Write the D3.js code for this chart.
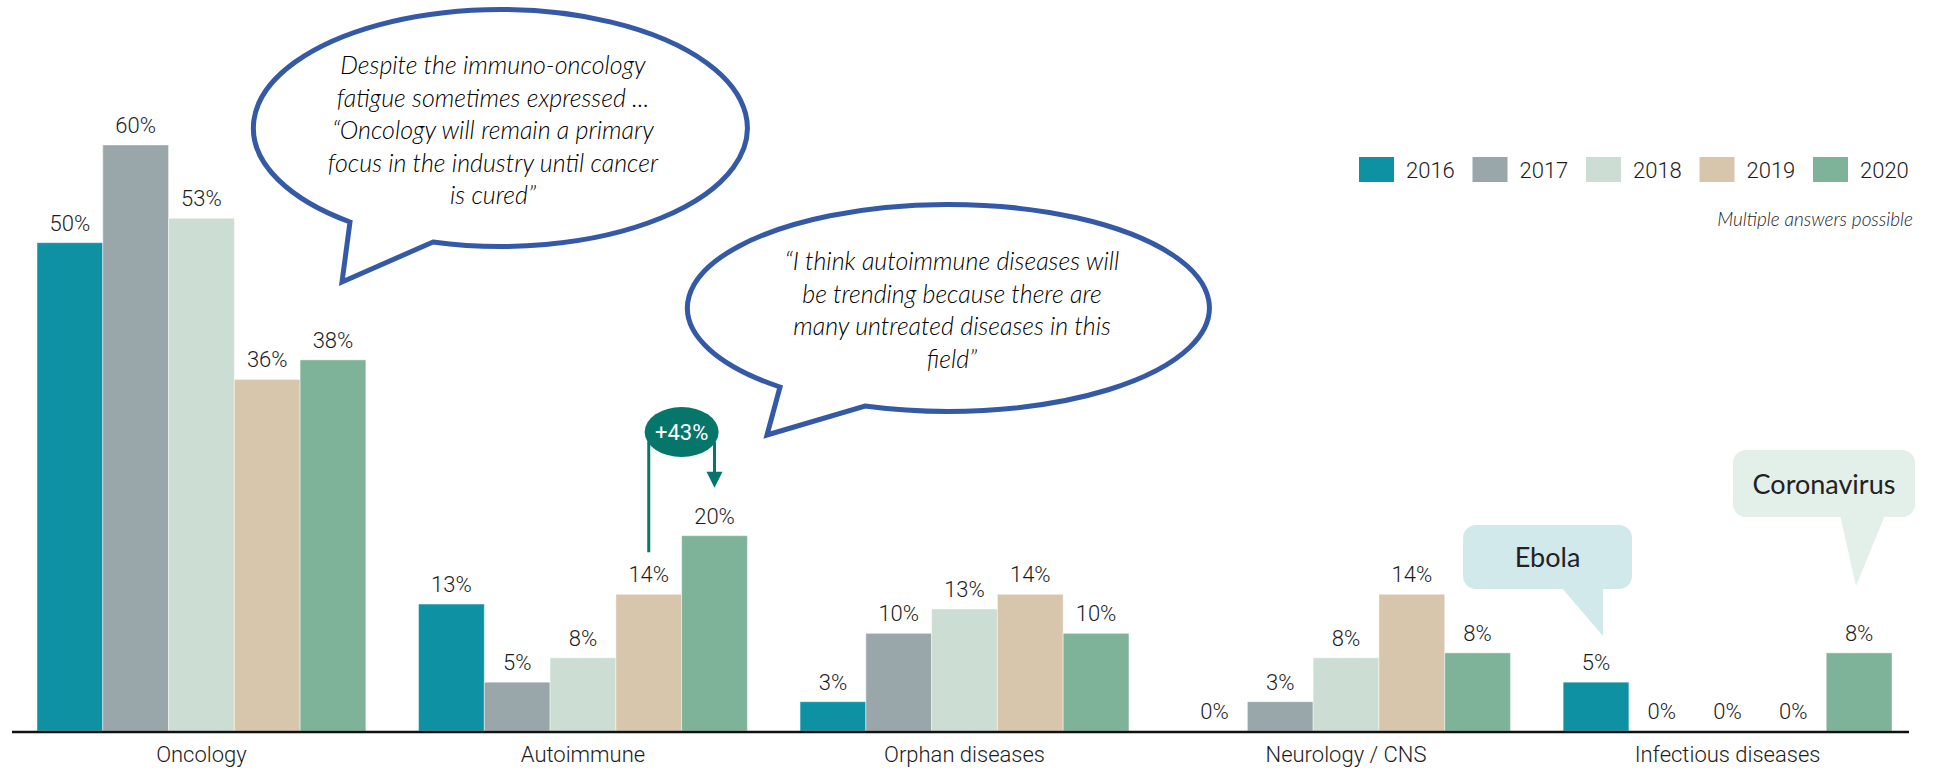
<!DOCTYPE html>
<html>
<head>
<meta charset="utf-8">
<script src="https://cdn.jsdelivr.net/npm/d3@7"></script>
<style>
  html, body { margin: 0; padding: 0; background: #fff; }
  svg { display: block; }
  .num { font-family: "Roboto", sans-serif; font-weight: 300; fill: #1c1c1c; }
  .quote { font-family: "Lato", sans-serif; font-style: italic; font-weight: 300; fill: #000; }
  .call { font-family: "Lato", sans-serif; fill: #222; }
</style>
</head>
<body>
<svg id="chart" width="1934" height="772"></svg>
<script>
// ---------------- data ----------------
const categories = ["Oncology", "Autoimmune", "Orphan diseases", "Neurology / CNS", "Infectious diseases"];
const years = ["2016", "2017", "2018", "2019", "2020"];
const s2016 = [50, 13, 3, 0, 5];
const s2017 = [60, 5, 10, 3, 0];
const s2018 = [52.5, 7.5, 12.5, 7.5, 0];
const s2019 = [36, 14, 14, 14, 0];
const s2020 = [38, 20, 10, 8, 8];
const series = [s2016, s2017, s2018, s2019, s2020];
const colors = ["#0F91A4", "#99A7AB", "#CCDDD3", "#D7C6AB", "#7EB399"];
const growthLabel = "+43%";
const note = "Multiple answers possible";
const quote1 = ["Despite the immuno-oncology", "fatigue sometimes expressed ...", "\u201COncology will remain a primary", "focus in the industry until cancer", "is cured\u201D"];
const quote2 = ["\u201CI think autoimmune diseases will", "be trending because there are", "many untreated diseases in this", "field\u201D"];

// ---------------- layout ----------------
const svg = d3.select("#chart");
const x0 = d3.scaleBand().domain(categories).range([37, 1892]).paddingInner(0.138).paddingOuter(0);
const x1 = d3.scaleBand().domain(years).range([0, x0.bandwidth()]).padding(0);
const y = d3.scaleLinear().domain([0, 60]).range([731, 145]);
const color = d3.scaleOrdinal().domain(years).range(colors);

const rows = [];
categories.forEach((c, ci) => years.forEach((yr, yi) => rows.push({ cat: c, year: yr, value: series[yi][ci] })));

// bars
svg.append("g").selectAll("rect").data(rows).join("rect")
  .attr("x", d => x0(d.cat) + x1(d.year))
  .attr("y", d => y(d.value))
  .attr("width", x1.bandwidth())
  .attr("height", d => y(0) - y(d.value))
  .attr("fill", d => color(d.year))
  .attr("stroke", "#fff").attr("stroke-opacity", 0.45).attr("stroke-width", 1);

// value labels
svg.append("g").selectAll("text").data(rows).join("text")
  .attr("class", "num")
  .attr("x", d => x0(d.cat) + x1(d.year) + x1.bandwidth() / 2)
  .attr("y", d => y(d.value) - 12)
  .attr("text-anchor", "middle")
  .attr("font-size", 22)
  .text(d => Math.round(d.value) + "%");

// x axis
const xAxis = d3.axisBottom(x0).tickSize(0).tickPadding(14);
const gx = svg.append("g").attr("transform", `translate(0,${y(0) + 1})`).call(xAxis);
gx.select(".domain").remove();
gx.selectAll("text").attr("class", "num").attr("font-size", 22).attr("font-family", null).attr("fill", "#1c1c1c");
svg.append("line").attr("x1", 12).attr("x2", 1909).attr("y1", y(0) + 1).attr("y2", y(0) + 1)
  .attr("stroke", "#111").attr("stroke-width", 2.5);

// legend
const lg = svg.append("g").selectAll("g").data(years).join("g")
  .attr("transform", (d, i) => `translate(${1359 + i * 113.5},157)`);
lg.append("rect").attr("width", 35).attr("height", 25).attr("fill", d => color(d));
lg.append("text").attr("class", "num").attr("x", 47).attr("y", 21).attr("font-size", 22).text(d => d);

svg.append("text").attr("class", "quote").attr("x", 1913).attr("y", 226)
  .attr("text-anchor", "end").attr("font-size", 19).style("fill", "#222").text(note);

// speech bubbles
function bubble(cx, cy, rx, ry, ax, ay, bx, by, tx, ty, lines, textCy, tcx) {
  svg.append("path")
    .attr("d", `M${ax},${ay} A${rx},${ry} 0 1 1 ${bx},${by} L${tx},${ty} Z`)
    .attr("fill", "#fff").attr("stroke", "#3459A6").attr("stroke-width", 5).attr("stroke-linejoin", "miter");
  const lh = 32.5;
  const t = svg.append("text").attr("class", "quote").attr("text-anchor", "middle").attr("font-size", 25);
  lines.forEach((l, i) => t.append("tspan").attr("x", tcx).attr("y", textCy - (lines.length - 1) * lh / 2 + i * lh + 8).text(l));
}
bubble(495, 128.5, 247, 118.5, 350, 222, 433, 242, 342, 282, quote1, 131, 493);
bubble(949, 308.5, 261, 103.5, 780, 387, 865, 406, 767, 435, quote2, 311, 952);

// growth marker between Autoimmune 2019 and 2020
const xa = x0("Autoimmune") + x1("2019") + x1.bandwidth() / 2;
const xb = x0("Autoimmune") + x1("2020") + x1.bandwidth() / 2;
const teal = "#07766A";
const my = 432;
svg.append("line").attr("x1", xa).attr("x2", xa).attr("y1", my + 10).attr("y2", y(14) - 42)
  .attr("stroke", teal).attr("stroke-width", 3);
svg.append("line").attr("x1", xb).attr("x2", xb).attr("y1", my + 10).attr("y2", y(20) - 62)
  .attr("stroke", teal).attr("stroke-width", 3);
svg.append("path").attr("d", `M${xb - 8},${y(20) - 64} L${xb + 8},${y(20) - 64} L${xb},${y(20) - 48} Z`).attr("fill", teal);
svg.append("ellipse").attr("cx", (xa + xb) / 2).attr("cy", my).attr("rx", 37).attr("ry", 25).attr("fill", teal);
svg.append("text").attr("class", "num").attr("x", (xa + xb) / 2).attr("y", my + 8)
  .attr("text-anchor", "middle").attr("font-size", 22).style("font-weight", 400).style("fill", "#fff").text(growthLabel);

// callouts
function callout(bx, by, bw, bh, tail, fill, label) {
  svg.append("rect").attr("x", bx).attr("y", by).attr("width", bw).attr("height", bh).attr("rx", 13).attr("fill", fill);
  svg.append("path").attr("d", `M${tail[0][0]},${tail[0][1]} L${tail[1][0]},${tail[1][1]} L${tail[2][0]},${tail[2][1]} Z`).attr("fill", fill);
  svg.append("text").attr("class", "call").attr("x", bx + bw / 2).attr("y", by + bh / 2 + 10)
    .attr("text-anchor", "middle").attr("font-size", 27).text(label);
}
callout(1463, 525, 169, 64, [[1561, 587], [1603, 587], [1603, 636]], "#D2E9EC", "Ebola");
callout(1733, 450, 182, 67, [[1840, 515], [1885, 515], [1856, 586]], "#E3EFE9", "Coronavirus");
</script>
</body>
</html>
